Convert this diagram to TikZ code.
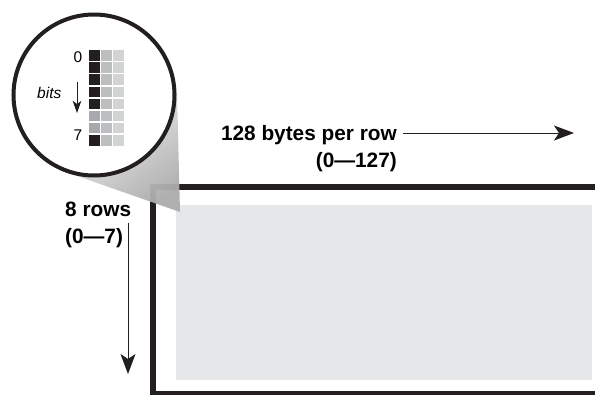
\documentclass[tikz,border=0pt]{standalone}
\usepackage{fontspec}
\setmainfont{Liberation Sans}
\usetikzlibrary{arrows.meta}
\definecolor{frameblack}{HTML}{231F20}
\definecolor{panel}{HTML}{E6E7E8}
\definecolor{bitdark}{HTML}{231F20}
\definecolor{bitmid}{HTML}{A7A9AC}
\definecolor{bitgray}{HTML}{BCBEC0}
\definecolor{bitlight}{HTML}{D1D3D4}
\begin{document}
\begin{tikzpicture}[x=1pt,y=-1pt,
  lbl/.style={font=\fontsize{20.8}{24}\selectfont\bfseries, inner sep=0},
  small/.style={font=\fontsize{15.5}{18}\selectfont, inner sep=0},
  cell/.style={inner sep=0, minimum width=10.4pt, minimum height=10.6pt, anchor=north west},
  arr/.style={line width=1pt, frameblack, -{Stealth[length=20pt,width=15pt,inset=5pt]}},
  smallarr/.style={line width=1pt, frameblack, -{Stealth[length=12pt,width=8.5pt,inset=3pt]}}]
\useasboundingbox (0,0) rectangle (595,394);
\clip (0,0) rectangle (595,394);
% panel and frame
\fill[panel] (176,205) rectangle (592,380);
\draw[line width=6pt, frameblack, line join=miter] (600,187) -- (153,187) -- (153,393.5) -- (600,393.5);
% magnifier cone
\coordinate (C) at (94,95);
\coordinate (P) at (180,212);
\coordinate (T1) at (177,92.3);
\coordinate (T2) at (66.9,172.4);
\shade[top color=gray!8, bottom color=gray!65, shading angle=36, opacity=0.95] (P) -- (T1) -- (C) -- (T2) -- cycle;
% magnifier circle
\node[circle, draw=frameblack, line width=4pt, fill=white, minimum size=161pt, inner sep=0] (mag) at (C) {};
% bit cells
\foreach \r in {0,...,7} {
  \pgfmathsetmacro{\yy}{50+12.1*\r}
  \ifnum\r=5 \def\cc{bitmid}\else\ifnum\r=6 \def\cc{bitmid}\else\def\cc{bitdark}\fi\fi
  \node[cell, fill=\cc] (a\r) at (89.2,\yy) {};
  \node[cell, fill=bitgray] (b\r) at (101.2,\yy) {};
  \node[cell, fill=bitlight] (c\r) at (113.2,\yy) {};
}
\node[small, anchor=base] (zero) at (78,62) {0};
\node[small, anchor=base] (seven) at (78,140) {7};
\node[small, anchor=base west] (bits) at (37,98) {\itshape bits};
\coordinate (bs) at (77,82);
\coordinate (be) at (77,113);
\draw[smallarr] (bs) -- (be);
% labels
\node[lbl, anchor=base east] (bytes) at (397,140) {128 bytes per row};
\node[lbl, anchor=base east] (bytesr) at (397,167) {(0—127)};
\coordinate (hs) at (403,133);
\coordinate (he) at (574,133);
\draw[arr] (hs) -- (he);
\node[lbl, anchor=base west] (rows) at (65,216) {8 rows};
\node[lbl, anchor=base west] (rowsr) at (65,243) {(0—7)};
\coordinate (vs) at (128,223);
\coordinate (ve) at (128,374);
\draw[arr] (vs) -- (ve);
\end{tikzpicture}
\end{document}
